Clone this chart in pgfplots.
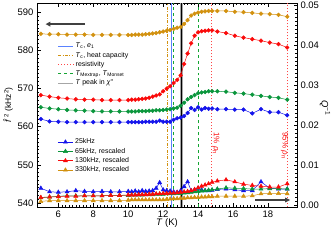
\documentclass[border=0pt]{standalone}
\usepackage{fontspec}
\setmainfont{Liberation Sans}
\usepackage{pgfplots}
\pgfplotsset{compat=1.18}
\usepackage{pgfplotstable}
\usetikzlibrary{arrows.meta}

\definecolor{cblue}{RGB}{20,20,235}
\definecolor{cgreen}{RGB}{10,150,60}
\definecolor{cred}{RGB}{250,10,10}
\definecolor{corange}{RGB}{210,145,15}
\definecolor{lblue}{RGB}{90,130,255}
\definecolor{lgreen}{RGB}{20,165,50}
\definecolor{lred}{RGB}{255,70,70}

\pgfplotstableread{
T     fo     fr     fg     fb     qb      qg      qr      qo
5.0  584.4 568.3 565.1 562.0  0.0042  0.0018  0.0019  0.0009
5.5  584.3 567.9 564.8 561.4  0.0033  0.0020  0.0020  0.0011
6.0  584.3 567.6 564.6 561.3  0.0032  0.0022  0.0021  0.0011
6.5  584.2 567.4 564.4 561.2  0.0033  0.0023  0.0022  0.0011
7.0  584.2 567.2 564.3 561.2  0.0036  0.0023  0.0022  0.0011
7.5  584.2 567.1 564.2 561.2  0.0034  0.0023  0.0023  0.0011
8.0  584.1 567.1 564.1 561.2  0.0033  0.0023  0.0023  0.0011
8.5  584.1 567.0 564.0 561.2  0.0034  0.0023  0.0023  0.0011
9.0  584.1 567.0 564.0 561.2  0.0033  0.0024  0.0024  0.0011
9.5  584.1 567.0 564.0 561.2  0.0033  0.0024  0.0024  0.0011
10.0 584.1 567.0 564.0 561.2  0.0034  0.0024  0.0025  0.0012
10.2 584.1 567.1 564.0 561.2  0.0033  0.0025  0.0025  0.0013
10.4 584.2 567.1 564.0 561.2  0.0035  0.0025  0.0025  0.0013
10.6 584.2 567.2 564.1 561.2  0.0033  0.0025  0.0026  0.0013
10.8 584.2 567.3 564.1 561.2  0.0036  0.0025  0.0026  0.0013
11.0 584.3 567.4 564.1 561.3  0.0034  0.0026  0.0026  0.0013
11.2 584.4 567.6 564.2 561.3  0.0035  0.0026  0.0027  0.0013
11.4 584.5 567.9 564.2 561.3  0.0036  0.0026  0.0027  0.0013
11.6 584.6 568.2 564.3 561.3  0.0042  0.0027  0.0028  0.0013
11.8 584.8 568.5 564.3 561.6  0.0056  0.0027  0.0028  0.0013
12.0 585.0 569.3 564.4 561.3  0.0038  0.0027  0.0029  0.0013
12.2 585.2 570.0 564.5 561.3  0.0036  0.0028  0.0029  0.0014
12.4 585.4 570.6 564.6 561.3  0.0035  0.0028  0.0030  0.0015
12.6 585.7 571.5 564.8 561.8  0.0033  0.0028  0.0030  0.0016
12.8 586.0 572.3 565.0 562.2  0.0032  0.0029  0.0031  0.0016
13.0 586.2 573.5 565.5 562.4  0.0036  0.0029  0.0032  0.0017
13.2 587.0 576.5 566.3 562.8  0.0046  0.0030  0.0033  0.0017
13.4 588.0 579.2 567.2 563.6  0.0058  0.0031  0.0034  0.0018
13.6 589.2 581.9 567.8 564.9  0.0036  0.0032  0.0036  0.0018
13.8 589.7 583.9 568.3 564.4  0.0038  0.0033  0.0039  0.0019
14.0 590.0 584.8 568.8 565.1  0.0042  0.0034  0.0043  0.0019
14.2 590.2 585.1 569.0 564.5  0.0038  0.0035  0.0047  0.0020
14.4 590.3 585.2 569.1 564.9  0.0036  0.0036  0.0050  0.0020
14.6 590.4 585.3 569.3 564.7  0.0036  0.0037  0.0053  0.0021
14.8 590.4 585.3 569.3 564.8  0.0037  0.0038  0.0057  0.0021
15.1 590.4 585.0 569.3 564.6  0.0039  0.0040  0.0060  0.0022
15.6 590.4 584.6 569.2 564.6  0.0040  0.0043  0.0063  0.0022
16.1 590.2 583.9 568.9 564.5  0.0038  0.0042  0.0058  0.0022
16.6 590.1 583.4 568.7 564.5  0.0036  0.0041  0.0052  0.0022
17.1 589.9 583.0 568.4 563.5  0.0036  0.0040  0.0049  0.0023
17.6 589.7 582.6 568.1 564.6  0.0058  0.0040  0.0047  0.0028
18.1 589.6 582.1 567.8 563.8  0.0042  0.0041  0.0045  0.0029
18.6 589.4 581.7 567.6 563.8  0.0040  0.0041  0.0045  0.0029
19.1 588.9 580.8 567.1 563.0  0.0040  0.0040  0.0053  0.0028
}\data

\begin{document}
\begin{tikzpicture}
\useasboundingbox (-37bp,-33bp) rectangle (298bp,207bp);
\begin{axis}[
  scale only axis, width=260bp, height=204bp,
  xmin=4.78, xmax=19.66, ymin=538.9, ymax=592.5,
  xtick={6,8,10,12,14,16,18}, minor x tick num=9,
  ytick={540,550,560,570,580,590}, minor y tick num=9,
  tick align=inside, xtick pos=both, ytick pos=left,
  major tick length=3.5bp, minor tick length=1.8bp,
  every tick/.style={black, line width=0.4bp},
  axis line style={line width=0.6bp},
  tick label style={font=\fontsize{9.5}{10}\selectfont, /pgf/number format/assume math mode=true},
  xlabel={\textit{T} (K)},
  xlabel style={font=\fontsize{9.5}{10}\selectfont, yshift=5bp},
  ylabel={\textit{\^f}\,\textsuperscript{2} (kHz\textsuperscript{2})},
  ylabel style={font=\fontsize{8.5}{10}\selectfont, yshift=-2bp},
  legend style={at={(0.075,0.82)}, anchor=north west, draw=none, fill=none,
    font=\fontsize{7}{8}\selectfont, row sep=-1.2bp, inner sep=1bp},
  legend cell align=left,
  legend image code/.code={\draw[#1, line width=1bp] (0bp,0bp) -- (15bp,0bp);},
]
% vertical reference lines
\addplot[lblue, line width=1bp] coordinates {(12.47,538.9) (12.47,592.5)};
\addlegendentry{\textit{T}\textsubscript{c}, \textit{e}\textsubscript{1}}
\addplot[corange, line width=1bp, dash pattern=on 3bp off 1.5bp on 0.8bp off 1.5bp] coordinates {(12.23,538.9) (12.23,592.5)};
\addlegendentry{\textit{T}\textsubscript{c}, heat capacity}
\addplot[lred, line width=1bp, dotted] coordinates {(14.78,538.9) (14.78,592.5)};
\addlegendentry{resistivity}
\addplot[lgreen, line width=1bp, dashed] coordinates {(12.59,538.9) (12.59,592.5)};
\addlegendentry{\textit{T}\textsubscript{Mextrap}, \textit{T}\textsubscript{Monset}}
\addplot[gray!70, line width=2.4bp] coordinates {(13.05,538.9) (13.05,592.5)};
\addlegendentry{\textit{T} peak in \textit{χ}\textquotesingle\textquotesingle}
\addplot[black, line width=0.6bp, forget plot] coordinates {(13.05,538.9) (13.05,592.5)};
\addplot[lgreen, line width=1bp, dashed, forget plot] coordinates {(14.02,538.9) (14.02,592.5)};
\addplot[lred, line width=1bp, dotted, forget plot] coordinates {(19.14,538.9) (19.14,592.5)};
% f^2 series
\addplot[corange, line width=0.5bp, mark=*, mark size=1.9bp, forget plot] table[x=T, y=fo] {\data};
\addplot[cred, line width=0.5bp, mark=*, mark size=1.9bp, forget plot] table[x=T, y=fr] {\data};
\addplot[cgreen, line width=0.5bp, mark=*, mark size=1.9bp, forget plot] table[x=T, y=fg] {\data};
\addplot[cblue, line width=0.5bp, mark=*, mark size=1.9bp, forget plot] table[x=T, y=fb] {\data};
\draw[black!75, line width=1.4bp, -{Triangle[length=5bp,width=4.5bp]}] (axis cs:7.54,586.95) -- (axis cs:5.26,586.95);
\node[cred, rotate=-90, font=\fontsize{8}{9}\selectfont] at (axis cs:15.02,555.6) {1\% \textit{ρ}\textsubscript{n}};
\node[cred, rotate=-90, font=\fontsize{8}{9}\selectfont] at (axis cs:18.95,555.0) {95\% \textit{ρ}\textsubscript{n}};
\end{axis}
\begin{axis}[
  scale only axis, width=260bp, height=204bp,
  xmin=4.78, xmax=19.66, ymin=-0.0005, ymax=0.0505,
  axis y line*=right, axis x line=none,
  ytick={0,0.01,0.02,0.03,0.04,0.05}, minor y tick num=9,
  tick align=inside,
  major tick length=3.5bp, minor tick length=1.8bp,
  every tick/.style={black, line width=0.4bp},
  axis line style={line width=0.6bp},
  scaled y ticks=false,
  yticklabel style={font=\fontsize{9.5}{10}\selectfont, /pgf/number format/.cd, fixed, fixed zerofill, precision=2, assume math mode=true},
  legend style={at={(0.075,0.35)}, anchor=north west, draw=none, fill=none,
    font=\fontsize{7}{8}\selectfont, row sep=-1.2bp, inner sep=1bp},
  legend cell align=left,
  legend image code/.code={\draw[mark repeat=2, mark phase=2, #1] plot coordinates {(0bp,0bp) (7.5bp,0bp) (15bp,0bp)};},
]
\addplot[cblue, line width=0.5bp, mark=triangle*, mark size=2.3bp] table[x=T, y=qb] {\data};
\addlegendentry{25kHz}
\addplot[cgreen, line width=0.5bp, mark=triangle*, mark size=2.3bp] table[x=T, y=qg] {\data};
\addlegendentry{65kHz, rescaled}
\addplot[cred, line width=0.5bp, mark=triangle*, mark size=2.3bp] table[x=T, y=qr] {\data};
\addlegendentry{130kHz, rescaled}
\addplot[corange, line width=0.5bp, mark=triangle*, mark size=2.3bp] table[x=T, y=qo] {\data};
\addlegendentry{330kHz, rescaled}
\draw[black!75, line width=1.4bp, -{Triangle[length=5bp,width=4.5bp]}] (axis cs:17.27,0.00125) -- (axis cs:19.27,0.00125);
\end{axis}
\node[rotate=-90, font=\fontsize{9.5}{10}\selectfont] at (288bp,99bp) {\textit{Q}\textsuperscript{−1}};
\end{tikzpicture}
\end{document}
